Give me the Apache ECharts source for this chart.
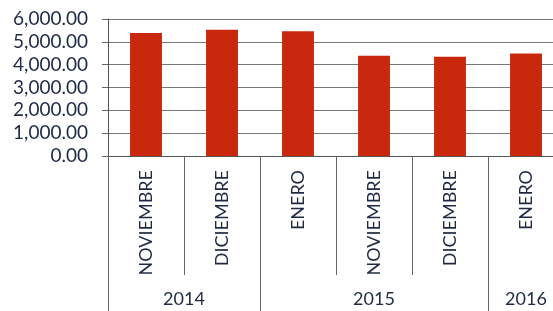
<!DOCTYPE html>
<html><head><meta charset="utf-8">
<script src="https://cdn.jsdelivr.net/npm/echarts@6/dist/echarts.min.js"></script>
<style>html,body{margin:0;padding:0;background:#fff;overflow:hidden;width:553px;height:311px}#c{width:565px;height:311px}</style>
</head><body><div id="c"></div>
<script>
const months = ['NOVIEMBRE','DICIEMBRE','ENERO','NOVIEMBRE','DICIEMBRE','ENERO'];
const values = [5390, 5530, 5460, 4390, 4350, 4490];
const yearLabels = ['2014','2015','2016'];
const yearCenters = [1, 3.5, 5.5];
const yearBounds = [0, 2, 5, 6];
const yTicks = [0, 1000, 2000, 3000, 4000, 5000, 6000];

const FONT = 'Lato';
const chart = echarts.init(document.getElementById('c'), null, {renderer:'canvas'});
chart.setOption({
  animation:false,
  backgroundColor:'#fff',
  grid:{left:108, right:1, top:19, bottom:155, containLabel:false},
  xAxis:[{
    type:'category', data:months, position:'bottom',
    axisLine:{show:true, lineStyle:{color:'#555', width:1}},
    axisTick:{show:true, length:119, interval:0, lineStyle:{color:'#666', width:1}},
    axisLabel:{rotate:90, interval:0, margin:14, color:'#1f2a44', fontFamily:FONT, fontSize:18},
    splitLine:{show:false}
  },{
    type:'value', min:0, max:6, position:'bottom', offset:0,
    axisLine:{show:false},
    axisTick:{show:true, customValues:yearBounds, length:156, lineStyle:{color:'#666', width:1}},
    axisLabel:{customValues:yearCenters, margin:134, color:'#1f2a44', fontFamily:FONT, fontSize:18,
      formatter:function(v){ const i = yearCenters.indexOf(v); return i>=0 ? yearLabels[i] : ''; }},
    splitLine:{show:false}
  }],
  yAxis:{
    type:'value', min:yTicks[0], max:yTicks[yTicks.length-1], interval:1000,
    axisLine:{show:true, lineStyle:{color:'#555'}},
    axisTick:{show:true, length:6, lineStyle:{color:'#666'}},
    axisLabel:{margin:20, color:'#1f2a44', fontFamily:FONT, fontSize:19,
      formatter:function(v){ return v.toLocaleString('en-US',{minimumFractionDigits:2, maximumFractionDigits:2}); }},
    splitLine:{show:true, lineStyle:{color:'#777', width:1}}
  },
  series:[{
    type:'bar', data:values, xAxisIndex:0, barWidth:'42%',
    itemStyle:{color:'#c9280c'}
  }]
});
</script></body></html>
